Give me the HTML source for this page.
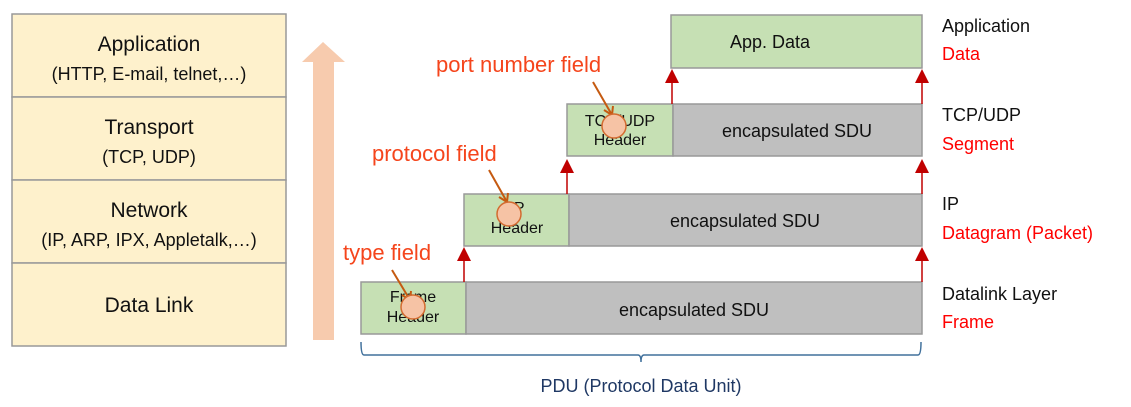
<!DOCTYPE html>
<html><head><meta charset="utf-8"><style>
html,body{margin:0;padding:0;background:#fff;}
svg{display:block;font-family:"Liberation Sans",sans-serif;}
</style></head><body>
<svg width="1131" height="407" viewBox="0 0 1131 407" xmlns="http://www.w3.org/2000/svg">
<defs>
<marker id="ah" viewBox="0 0 10 10" refX="5" refY="0" markerWidth="14" markerHeight="14" markerUnits="userSpaceOnUse" orient="auto-start-reverse"></marker>
</defs>
<!-- left stack -->
<g stroke="#999" stroke-width="1.5" fill="#fef1cc">
<rect x="12" y="14" width="274" height="83"/>
<rect x="12" y="97" width="274" height="83"/>
<rect x="12" y="180" width="274" height="83"/>
<rect x="12" y="263" width="274" height="83"/>
</g>
<g font-size="21" fill="#111" text-anchor="middle">
<text x="149" y="51">Application</text>
<text x="149" y="80" font-size="18">(HTTP, E-mail, telnet,…)</text>
<text x="149" y="134">Transport</text>
<text x="149" y="163" font-size="18">(TCP, UDP)</text>
<text x="149" y="217">Network</text>
<text x="149" y="246" font-size="18">(IP, ARP, IPX, Appletalk,…)</text>
<text x="149" y="312">Data Link</text>
</g>
<!-- big arrow -->
<polygon points="313,340 334,340 334,62 345,62 323,42 302,62 313,62" fill="#f7cbae"/>
<!-- boxes -->
<g stroke="#999" stroke-width="1.5">
<rect x="361" y="282" width="105" height="52" fill="#c6e0b4"/>
<rect x="466" y="282" width="456" height="52" fill="#bfbfbf"/>
<rect x="464" y="194" width="105" height="52" fill="#c6e0b4"/>
<rect x="569" y="194" width="353" height="52" fill="#bfbfbf"/>
<rect x="567" y="104" width="106" height="52" fill="#c6e0b4"/>
<rect x="673" y="104" width="249" height="52" fill="#bfbfbf"/>
<rect x="671" y="15" width="251" height="53" fill="#c6e0b4"/>
</g>
<g font-size="18" fill="#111" text-anchor="middle">
<text x="770" y="48">App. Data</text>
<text x="797" y="137">encapsulated SDU</text>
<text x="745" y="227">encapsulated SDU</text>
<text x="694" y="316">encapsulated SDU</text>
<text x="620" y="126" font-size="16">TCP/UDP</text>
<text x="620" y="145" font-size="16">Header</text>
<text x="517" y="213" font-size="16">IP</text>
<text x="517" y="233" font-size="16">Header</text>
<text x="413" y="302" font-size="16">Frame</text>
<text x="413" y="322" font-size="16">Header</text>
</g>
<!-- red arrows -->
<g stroke="#c00000" stroke-width="1.5">
<line x1="464" y1="282" x2="464" y2="258"/><line x1="922" y1="282" x2="922" y2="258"/>
<line x1="567" y1="194" x2="567" y2="170"/><line x1="922" y1="194" x2="922" y2="170"/>
<line x1="672" y1="104" x2="672" y2="80"/><line x1="922" y1="104" x2="922" y2="80"/>
</g>
<g fill="#c00000">
<polygon points="457,261 471,261 464,247"/><polygon points="915,261 929,261 922,247"/>
<polygon points="560,173 574,173 567,159"/><polygon points="915,173 929,173 922,159"/>
<polygon points="665,83 679,83 672,69"/><polygon points="915,83 929,83 922,69"/>
</g>
<!-- field labels -->
<g font-size="22" fill="#f5451c">
<text x="436" y="72">port number field</text>
<text x="372" y="161">protocol field</text>
<text x="343" y="260">type field</text>
</g>
<g stroke="#c55a11" stroke-width="2" fill="none">
<line x1="593" y1="82" x2="612" y2="115"/><polyline points="604,110 612,115 613,106"/>
<line x1="489" y1="170" x2="507" y2="202"/><polyline points="499,197 507,202 508,193"/>
<line x1="392" y1="270" x2="410" y2="300"/><polyline points="402,295 410,300 411,291"/>
</g>
<g fill="#f6c3a5" stroke="#d36b30" stroke-width="1.5">
<circle cx="614" cy="126" r="12"/>
<circle cx="509" cy="214" r="12"/>
<circle cx="413" cy="307" r="12"/>
</g>
<!-- right labels -->
<g font-size="18">
<text x="942" y="32" fill="#111">Application</text>
<text x="942" y="60" fill="#f00">Data</text>
<text x="942" y="121" fill="#111">TCP/UDP</text>
<text x="942" y="150" fill="#f00">Segment</text>
<text x="942" y="210" fill="#111">IP</text>
<text x="942" y="239" fill="#f00">Datagram (Packet)</text>
<text x="942" y="300" fill="#111">Datalink Layer</text>
<text x="942" y="328" fill="#f00">Frame</text>
</g>
<!-- brace -->
<path d="M361,342 Q361,355 364,355 L638,355 Q641,355 641,362 Q641,355 644,355 L918,355 Q921,355 921,342" fill="none" stroke="#41719c" stroke-width="1.5"/>
<text x="641" y="392" font-size="18" fill="#1f3864" text-anchor="middle">PDU (Protocol Data Unit)</text>
</svg>
</body></html>
